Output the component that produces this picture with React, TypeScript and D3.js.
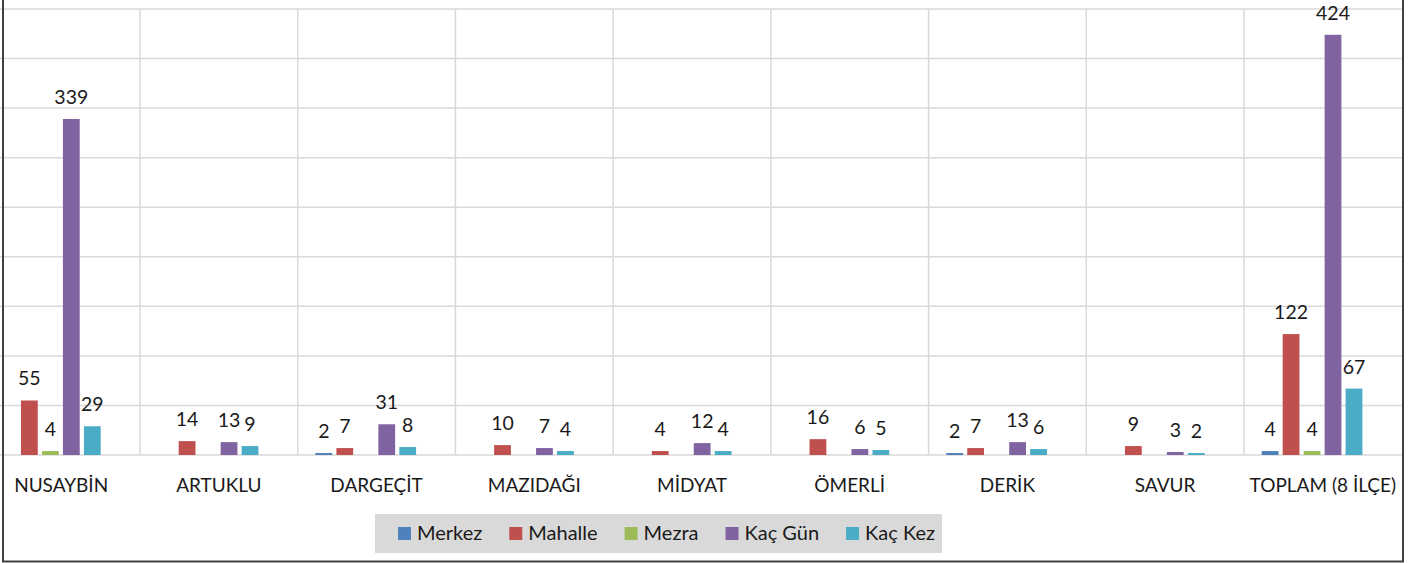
import { useMemo } from 'react';
import * as d3 from 'd3';

const categories = ['NUSAYBİN', 'ARTUKLU', 'DARGEÇİT', 'MAZIDAĞI', 'MİDYAT', 'ÖMERLİ', 'DERİK', 'SAVUR', 'TOPLAM (8 İLÇE)'];
const seriesNames = ['Merkez', 'Mahalle', 'Mezra', 'Kaç Gün', 'Kaç Kez'];
const merkez = [null, null, 2, null, null, null, 2, null, 4];
const mahalle = [55, 14, 7, 10, 4, 16, 7, 9, 122];
const mezra = [4, null, null, null, null, null, null, null, 4];
const kacGun = [339, 13, 31, 7, 12, 6, 13, 3, 424];
const kacKez = [29, 9, 8, 4, 4, 5, 6, 2, 67];
const yMax = 450;

const colors = ['#4f81bd', '#c0504d', '#9bbb59', '#8064a2', '#4bacc6'];
const seriesValues: (number | null)[][] = [merkez, mahalle, mezra, kacGun, kacKez];

const W = 1418;
const H = 563;
const plot = { left: -17.7, right: 1401.7, top: 9, bottom: 455 };
const FONT = 'Lato, "Open Sans", sans-serif';
const textColor = '#1a1a1a';
const gridColor = '#d9d9d9';
const legendFont = 20;

function measure(text: string, size: number) {
  const ctx = document.createElement('canvas').getContext('2d');
  if (!ctx) return text.length * size * 0.55;
  ctx.font = `${size}px Lato`;
  return ctx.measureText(text).width;
}

export default function App() {
  document.body.style.margin = '0';

  const x0 = d3.scaleBand<string>().domain(categories).range([plot.left, plot.right]).padding(0);
  // bar group sits slightly left of the band centre, like the original
  const x1 = d3.scaleBand<string>().domain(seriesNames).range([17.7, 118.4]).paddingInner(0.2).paddingOuter(0);
  const y = d3.scaleLinear().domain([0, yMax]).range([plot.bottom, plot.top]);

  const legend = useMemo(() => {
    let cx = 398;
    return seriesNames.map((name, i) => {
      const item = { name, color: colors[i], x: cx };
      cx += 19 + measure(name, legendFont) + 27;
      return item;
    });
  }, []);

  return (
    <svg width={W} height={H} style={{ display: 'block', background: '#fff' }} fontFamily={FONT}>
      {/* horizontal gridlines */}
      {y.ticks(9).map((t) => (
        <line key={'h' + t} x1={plot.left} x2={plot.right} y1={y(t)} y2={y(t)} stroke={gridColor} strokeWidth={1.5} />
      ))}
      {/* vertical gridlines at category boundaries */}
      {categories.slice(1).map((c) => (
        <line key={'v' + c} x1={x0(c)} x2={x0(c)} y1={plot.top} y2={plot.bottom} stroke={gridColor} strokeWidth={1.5} />
      ))}

      {/* bars */}
      {categories.map((c, ci) =>
        seriesNames.map((s, si) => {
          const v = seriesValues[si][ci];
          if (v == null) return null;
          const bx = (x0(c) ?? 0) + (x1(s) ?? 0);
          return (
            <rect key={c + s} x={bx} y={y(v)} width={x1.bandwidth()} height={y(0) - y(v)} fill={colors[si]} />
          );
        })
      )}

      {/* value labels */}
      {categories.map((c, ci) =>
        seriesNames.map((s, si) => {
          const v = seriesValues[si][ci];
          if (v == null) return null;
          const bx = (x0(c) ?? 0) + (x1(s) ?? 0) + x1.bandwidth() / 2;
          return (
            <text key={'l' + c + s} x={bx} y={y(v) - 15} textAnchor="middle" fontSize={19.5} fill={textColor}>
              {v}
            </text>
          );
        })
      )}

      {/* category labels */}
      {categories.map((c) => (
        <text key={'c' + c} x={(x0(c) ?? 0) + x0.bandwidth() / 2} y={492} textAnchor="middle" fontSize={19} fill={textColor}>
          {c}
        </text>
      ))}

      {/* legend */}
      <rect x={375} y={514} width={567} height={39} fill="#d9d9d9" />
      {legend.map((d) => (
        <g key={d.name} transform={`translate(${d.x},0)`}>
          <rect x={0} y={527} width={13} height={13} fill={d.color} />
          <text x={19} y={540} fontSize={legendFont} fill={textColor}>
            {d.name}
          </text>
        </g>
      ))}

      {/* outer border */}
      <line x1={3} x2={3} y1={0} y2={562} stroke="#404040" strokeWidth={2} />
      <line x1={1403} x2={1403} y1={0} y2={562} stroke="#404040" strokeWidth={2} />
      <line x1={2} x2={1404} y1={561.5} y2={561.5} stroke="#404040" strokeWidth={2} />
    </svg>
  );
}
